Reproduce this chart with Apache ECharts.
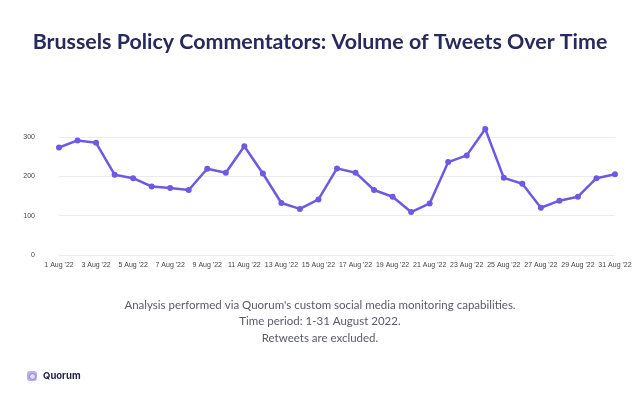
<!DOCTYPE html>
<html><head><meta charset="utf-8">
<script src="https://cdn.jsdelivr.net/npm/echarts@6/dist/echarts.min.js"></script>
<style>html,body{margin:0;padding:0;background:#fff}#c{width:640px;height:400px}</style>
</head><body><div id="c"></div>
<script>
const categories = ["1 Aug '22","2 Aug '22","3 Aug '22","4 Aug '22","5 Aug '22","6 Aug '22","7 Aug '22","8 Aug '22","9 Aug '22","10 Aug '22","11 Aug '22","12 Aug '22","13 Aug '22","14 Aug '22","15 Aug '22","16 Aug '22","17 Aug '22","18 Aug '22","19 Aug '22","20 Aug '22","21 Aug '22","22 Aug '22","23 Aug '22","24 Aug '22","25 Aug '22","26 Aug '22","27 Aug '22","28 Aug '22","29 Aug '22","30 Aug '22","31 Aug '22"];
const tweets = [273,291,285,204,195,174,170,165,219,209,276,207,132,117,141,220,209,165,148,109,131,236,253,320,196,181,120,138,148,195,205];
const yTicks = [0,100,200,300];
const titleText = "Brussels Policy Commentators: Volume of Tweets Over Time";
const noteLines = ["Analysis performed via Quorum's custom social media monitoring capabilities.","Time period: 1-31 August 2022.","Retweets are excluded."];

const chart = echarts.init(document.getElementById('c'), null, {renderer:'canvas'});
const noteGraphics = noteLines.map((t,i)=>({type:'text',left:'center',top:299+i*16.5,
  style:{text:t,fontFamily:'Lato',fontSize:11.5,fill:'#5a5a6a'}}));
chart.setOption({
  backgroundColor:'#fff',
  animation:false,
  title:{text:titleText,left:'center',top:27,textStyle:{fontFamily:'Lato',fontWeight:'bold',fontSize:21.4,color:'#272a5c'}},
  grid:{left:59,right:25,top:129,bottom:145},
  xAxis:{type:'category',data:categories,boundaryGap:false,
    axisLine:{show:false},axisTick:{show:false},
    axisLabel:{interval:1,fontSize:7,color:'#444',fontFamily:'Arial',margin:7}},
  yAxis:{type:'value',min:yTicks[0],max:function(v){return v.max;},interval:yTicks[1]-yTicks[0],
    axisLine:{show:false},axisTick:{show:false},
    axisLabel:{fontSize:7,color:'#444',fontFamily:'Arial',margin:24,showMaxLabel:false},
    splitLine:{show:true,showMaxLine:false,lineStyle:{color:'#ececec',width:1}}},
  series:[{type:'line',data:tweets,symbol:'circle',symbolSize:6,
    itemStyle:{color:'#6d5ae0'},lineStyle:{color:'#6d5ae0',width:2.5}}],
  graphic:noteGraphics.concat([
    {type:'rect',left:27,top:371,shape:{width:10,height:10,r:3},style:{fill:'#b9aff0'}},
    {type:'circle',left:29,top:373,shape:{r:3},style:{fill:'#e6e1fb',stroke:'#8a7ae6',lineWidth:1}},
    {type:'text',left:43,top:371,style:{text:'Quorum',fontFamily:'Inter',fontWeight:'bold',fontSize:9.5,fill:'#22244a'}}
  ])
});
</script></body></html>
